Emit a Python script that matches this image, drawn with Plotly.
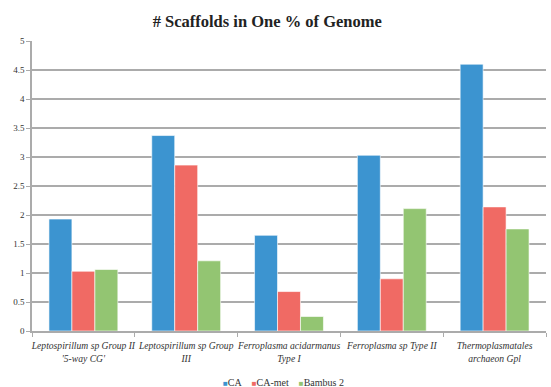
import plotly.graph_objects as go

categories = [
    "Leptospirillum sp Group II<br>'5-way CG'",
    "Leptospirillum sp Group<br>III",
    "Ferroplasma acidarmanus<br>Type I",
    "Ferroplasma sp Type II",
    "Thermoplasmatales<br>archaeon Gpl",
]
series_names = ["CA", "CA-met", "Bambus 2"]
ca = [1.93, 3.37, 1.65, 3.03, 4.60]
ca_met = [1.03, 2.86, 0.68, 0.90, 2.14]
bambus = [1.06, 1.21, 0.25, 2.11, 1.76]
colors = ["#3C94D0", "#F06A64", "#93C572"]

FONT = "Liberation Serif, Times New Roman, serif"

fig = go.Figure()
for name, vals, col in zip(series_names, [ca, ca_met, bambus], colors):
    fig.add_trace(go.Bar(
        x=categories, y=vals, name=name, showlegend=False,
        marker=dict(color=col, line=dict(color="rgba(255,255,255,0.6)", width=1)),
    ))

legend_parts = []
for name, col in zip(series_names, colors):
    legend_parts.append(
        f"<span style='color:{col};font-size:8px'>■</span>{name}"
    )
legend_text = "\u2002\u2002".join(legend_parts)

fig.update_layout(
    width=551, height=387,
    margin=dict(l=32, r=5, t=41, b=56, autoexpand=False),
    paper_bgcolor="white", plot_bgcolor="white",
    barmode="group", bargap=0.33, bargroupgap=0,
    font=dict(family=FONT, color="#333333"),
    title=dict(text="<b># Scaffolds in One % of Genome</b>", x=0.485, xanchor="center",
               y=1 - 21 / 387, yanchor="middle", yref="container",
               font=dict(family=FONT, size=16.5, color="#222222")),
    annotations=[dict(
        text=legend_text, xref="paper", yref="paper", x=0.49, y=-0.176,
        xanchor="center", yanchor="middle", showarrow=False,
        font=dict(family=FONT, size=10, color="#333333"),
    )],
)
fig.update_yaxes(
    range=[0, 5], dtick=0.5, showgrid=True, gridcolor="#ABABAB", gridwidth=1.5,
    showline=True, linecolor="#ABABAB", linewidth=1.5,
    ticks="outside", ticklen=4, tickcolor="#ABABAB",
    tickfont=dict(family=FONT, size=9, color="#333333"), zeroline=False,
)
fig.update_xaxes(
    showline=True, linecolor="#ABABAB", linewidth=1.5,
    ticks="outside", tickson="boundaries", ticklen=4, tickcolor="#ABABAB",
    tickfont=dict(family=FONT, size=9.6, color="#333333", style="italic"),
    tickangle=0, ticklabelstandoff=5,
)

fig.write_html("out.html", config={"displayModeBar": False},
               post_script="document.body.style.margin='0px';")
